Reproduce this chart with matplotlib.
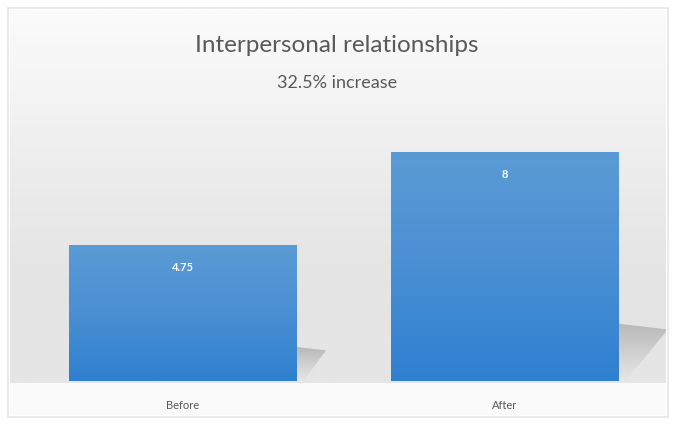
import numpy as np
import matplotlib.pyplot as plt
from matplotlib.patches import Polygon, Rectangle
from matplotlib.colors import LinearSegmentedColormap

categories = ['Before', 'After']
values = [4.75, 8]
value_labels = ['4.75', '8']
title = 'Interpersonal relationships'
subtitle = '32.5% increase'

W, H = 674, 425
fig = plt.figure(figsize=(W / 100, H / 100), dpi=100)
fig.patch.set_facecolor('white')

# background panel: light grey gradient behind the plot, pale strip under the axis
bg = fig.add_axes([0, 0, 1, 1], zorder=0)
bg.set_xlim(0, W)
bg.set_ylim(H, 0)
bg.axis('off')
rows = np.linspace(0, 1, 200)[:, None]
grey = LinearSegmentedColormap.from_list('g', ['#fbfbfb', '#f3f3f3', '#eaeaea', '#e4e4e4', '#e6e6e6'])
bg.imshow(rows, cmap=grey, vmin=0, vmax=1, aspect='auto', extent=(10, 666, 383, 10))
bg.add_patch(Rectangle((10, 383), 656, 32, facecolor='#fafafa', edgecolor='none'))
bg.add_patch(Rectangle((8, 8), 660, 409, facecolor='none', edgecolor='#e6e6e6', lw=1.2))

# plot axes laid over the background
left_px, right_px, bottom_px, top_px = 22, 666, 381, 110
ax = fig.add_axes([left_px / W, (H - bottom_px) / H, (right_px - left_px) / W, (bottom_px - top_px) / H], zorder=1)
ax.patch.set_visible(False)
x = np.arange(len(categories))
px_per_unit = 322
for s in ax.spines.values():
    s.set_visible(False)
ax.set_yticks([])
ax.set_xticks(x)
ax.set_xticklabels(categories, fontsize=8, color='#595959', family='Lato')
ax.tick_params(axis='x', length=0, pad=14)

width = 0.708
bars = ax.bar(x, values, width=width, color='#4a8ed4', zorder=3)

blue = LinearSegmentedColormap.from_list('b', ['#5b9bd5', '#4a8fd4', '#2f80d0'])
shade = LinearSegmentedColormap.from_list('s', ['#b8b8b8', '#d0d0d0', '#e6e6e6'])
for bar, h, lab in zip(bars, values, value_labels):
    x0, x1 = bar.get_x(), bar.get_x() + bar.get_width()
    # bar fill gradient, clipped to the bar
    im = ax.imshow(rows, cmap=blue, vmin=0, vmax=1, aspect='auto',
                   extent=(x0, x1, 0, h), zorder=4)
    im.set_clip_path(bar)
    # perspective shadow at the bottom right corner
    sh = 0.25 * h
    ext = 0.019 * h
    poly = Polygon([(x1, 0), (x1, sh), (x1 + ext, sh * 0.9), (x1 + 0.02, 0)],
                   closed=True, facecolor='none', edgecolor='none')
    ax.add_patch(poly)
    sim = ax.imshow(rows, cmap=shade, vmin=0, vmax=1, aspect='auto',
                    extent=(x1, x1 + ext, 0, sh), zorder=2)
    sim.set_clip_path(poly)
    ax.text(bar.get_x() + bar.get_width() / 2, h - 0.8, lab, ha='center', va='center',
            color='white', fontsize=8, fontweight='bold', family='Lato', zorder=5)

ax.set_xlim((left_px - 183) / px_per_unit, (right_px - 183) / px_per_unit)
ax.set_ylim(0, 8 * (bottom_px - top_px) / 229)

fig.text(0.5, 1 - 45 / H, title, ha='center', va='center', fontsize=17.5, color='#595959', family='Lato')
fig.text(0.5, 1 - 83 / H, subtitle, ha='center', va='center', fontsize=13, color='#595959', family='Lato')

fig.savefig('out.png', dpi=100)
